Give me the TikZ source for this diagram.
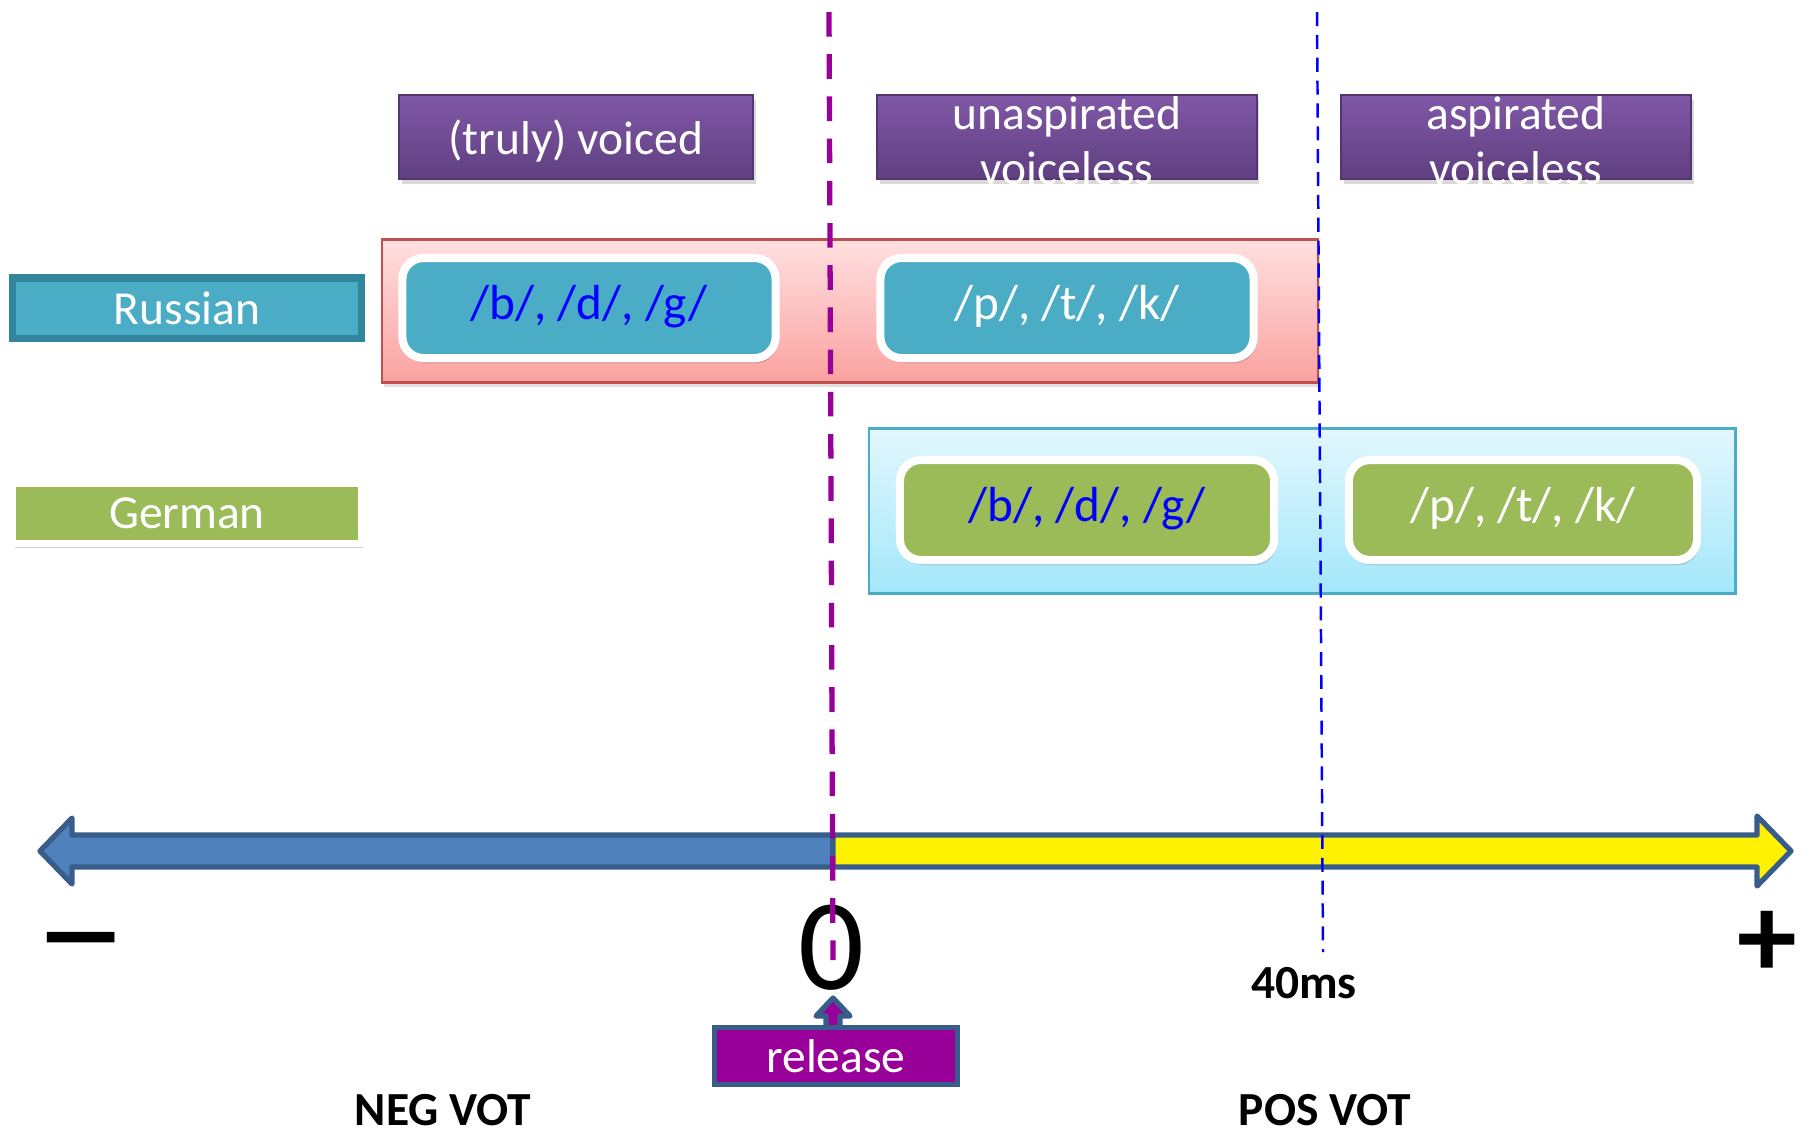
\documentclass[tikz,border=0pt]{standalone}
\usepackage{fontspec}
\setmainfont{Carlito}
\usetikzlibrary{shadows,calc}
\definecolor{hdrtop}{RGB}{128,88,167}
\definecolor{hdrbot}{RGB}{96,63,128}
\definecolor{rusteal}{RGB}{75,172,198}
\definecolor{rusedge}{RGB}{49,133,156}
\definecolor{gergreen}{RGB}{155,187,89}
\definecolor{redtop}{RGB}{255,224,224}
\definecolor{redbot}{RGB}{250,162,160}
\definecolor{rededge}{RGB}{192,80,77}
\definecolor{cyantop}{RGB}{226,247,253}
\definecolor{cyanbot}{RGB}{163,231,250}
\definecolor{axisblue}{RGB}{79,129,189}
\definecolor{axisedge}{RGB}{56,93,138}
\definecolor{relpurple}{RGB}{153,0,153}
\definecolor{phonblue}{RGB}{0,0,255}
\tikzset{
    header/.style={rectangle, top color=hdrtop, bottom color=hdrbot, draw=hdrbot!85!black, line width=0.6pt, minimum height=0.84cm, drop shadow={opacity=0.3, shadow xshift=0.8pt, shadow yshift=-1.5pt}},
    headtext/.style={text=white, align=center, yshift=-1pt, font=\fontsize{13.5}{15.6}\selectfont},
    langlabel/.style={rectangle, inner sep=0pt, line width=2pt, minimum width=3.48cm, minimum height=0.6cm, text=white, font=\fontsize{13.5}{16}\selectfont},
    spanbox/.style={rectangle, line width=0.7pt},
    phoneme/.style={rectangle, rounded corners=6pt, draw=white, line width=2.3pt, minimum height=1.0cm, text height=0.9em, text depth=0.25em, font=\fontsize{14}{16}\selectfont, drop shadow={opacity=0.3, shadow xshift=0.6pt, shadow yshift=-1.5pt}},
    blockarrow/.style={draw=axisedge, line width=1.5pt, line join=round},
    releasebox/.style={rectangle, fill=relpurple, draw=axisedge, line width=1.5pt, minimum width=2.43cm, minimum height=0.53cm, text=white, font=\fontsize{13.5}{16}\selectfont},
    axislabel/.style={inner sep=1pt, font=\fontsize{13.5}{16}\selectfont\bfseries},
    signlabel/.style={font=\fontsize{34}{36}\selectfont\bfseries},
    zeroline/.style={relpurple, line width=1.5pt, dash pattern=on 7pt off 5pt},
    fortyline/.style={phonblue, line width=0.7pt, dash pattern=on 4pt off 2.5pt}
}
\begin{document}
\begin{tikzpicture}[x=0.01cm, y=-0.01cm]
    \useasboundingbox (0,0) rectangle (1810,1132);
    % Category headers
    \node[header, minimum width=3.54cm] (voicedhdr) at (576,137) {};
    \node[headtext] at (voicedhdr) {(truly) voiced};
    \node[header, minimum width=3.79cm] (unasphdr) at (1067,137) {};
    \node[headtext] at (unasphdr) {unaspirated\\voiceless};
    \node[header, minimum width=3.50cm] (asphdr) at (1516,137) {};
    \node[headtext] at (asphdr) {aspirated\\voiceless};
    % Russian
    \node[langlabel, fill=rusteal, draw=rusedge] (russian) at (187,308) {Russian};
    \node[spanbox, top color=redtop, bottom color=redbot, draw=rededge, minimum width=9.35cm, minimum height=1.43cm, drop shadow={opacity=0.25, shadow xshift=0.5pt, shadow yshift=-1.2pt}] (rusrange) at (850,311) {};
    \node[phoneme, fill=rusteal, text=phonblue, minimum width=3.73cm] (rusvoiced) at (589,308) {/b/, /d/, /g/};
    \node[phoneme, fill=rusteal, text=white, minimum width=3.73cm] (rusvoiceless) at (1067,308) {/p/, /t/, /k/};
    % German
    \node[langlabel, fill=gergreen, draw=white, drop shadow={opacity=0.35, shadow xshift=0.6pt, shadow yshift=-1.5pt}] (german) at (187,513) {German};
    \node[spanbox, top color=cyantop, bottom color=cyanbot, draw=rusteal, minimum width=8.66cm, minimum height=1.65cm] (gerrange) at (1302,511) {};
    \node[phoneme, fill=gergreen, text=phonblue, minimum width=3.74cm] (gervoiced) at (1087,510) {/b/, /d/, /g/};
    \node[phoneme, fill=gergreen, text=white, minimum width=3.48cm] (gervoiceless) at (1523,510) {/p/, /t/, /k/};
    % VOT axis
    \draw[blockarrow, fill=axisblue] (833,835) -- (72,835) -- (72,818) -- (40,851) -- (72,884) -- (72,867) -- (833,867) -- cycle;
    \draw[blockarrow, fill=yellow] (833,835) -- (1757,835) -- (1757,816) -- (1791,851) -- (1757,886) -- (1757,867) -- (833,867) -- cycle;
    \node[signlabel] (minus) at (81,952) {\scalebox{1.6}[1]{--}};
    \node[signlabel] (plus) at (1767,944) {+};
    \node[font=\fontsize{37}{40}\selectfont] (zero) at (831,948) {0};
    \node[axislabel] (fortyms) at (1304,983) {40ms};
    \node[axislabel] (negvot) at (443,1110) {NEG VOT};
    \node[axislabel] (posvot) at (1325,1110) {POS VOT};
    % release marker
    \draw[blockarrow, fill=relpurple] (826,1030) -- (826,1016) -- (816,1016) -- (833,998) -- (850,1016) -- (840,1016) -- (840,1030) -- cycle;
    \node[releasebox] (release) at (836,1056) {release};
    % boundaries
    \coordinate (zerotop) at (829,12);
    \coordinate (zerobot) at (833,960);
    \draw[zeroline] (zerotop) -- (zerobot);
    \coordinate (fortytop) at (1317,12);
    \coordinate (fortybot) at (1323,952);
    \draw[fortyline] (fortytop) -- (fortybot);
\end{tikzpicture}
\end{document}
